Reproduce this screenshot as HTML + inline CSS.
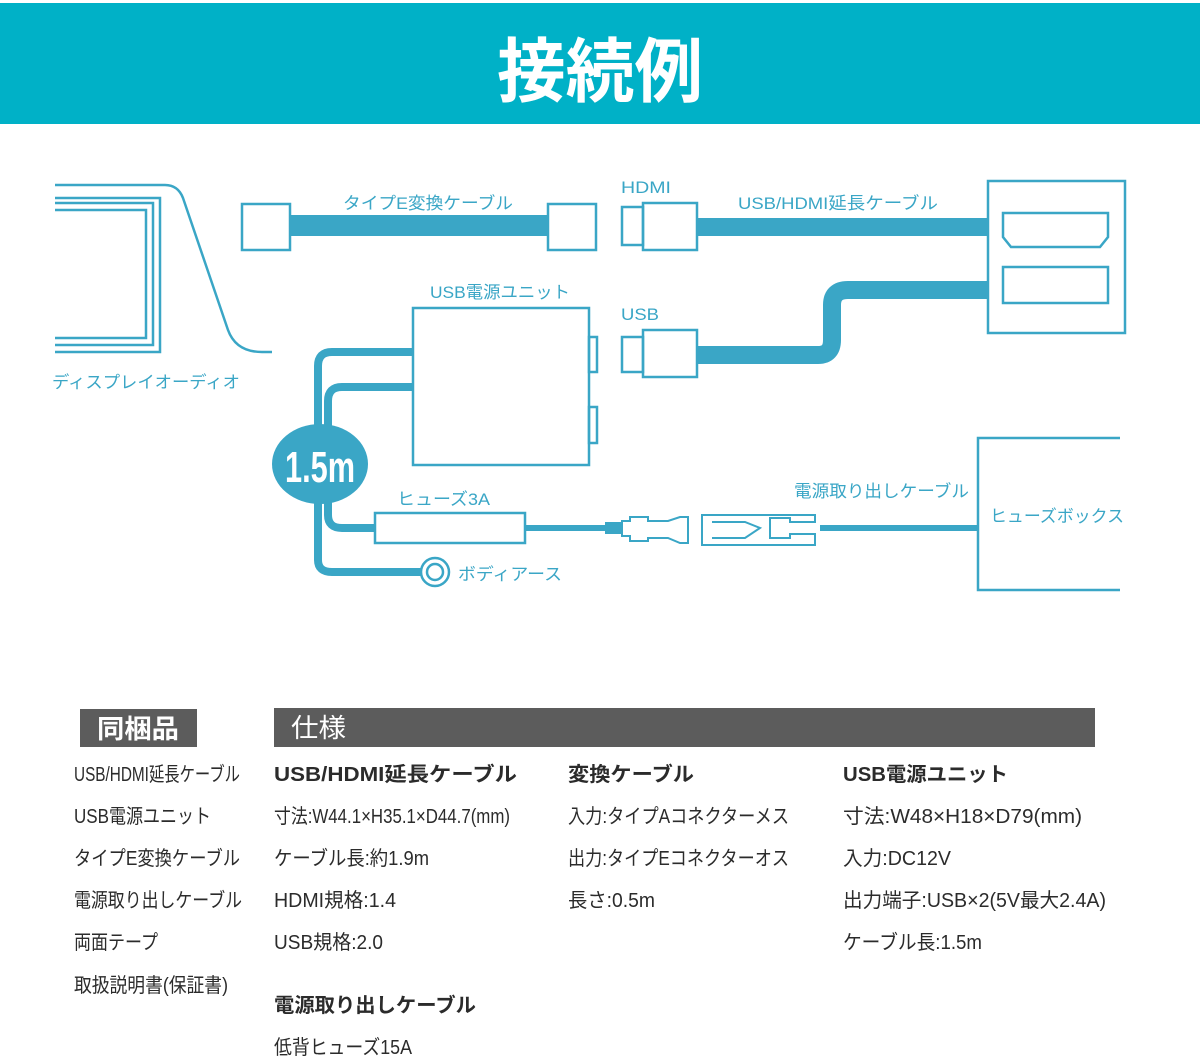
<!DOCTYPE html>
<html><head><meta charset="utf-8"><style>
html,body{margin:0;padding:0;background:#fff;}
svg{display:block;}
text{font-family:"Liberation Sans","Noto Sans CJK JP",sans-serif;}
</style></head><body>
<svg width="1200" height="1059" viewBox="0 0 1200 1059" xmlns="http://www.w3.org/2000/svg">
<rect x="0" y="3" width="1200" height="121" fill="#00b1c7"/>
<text x="600" y="96" text-anchor="middle" font-size="70" font-weight="bold" fill="#fff" textLength="206" lengthAdjust="spacingAndGlyphs">接続例</text>

<g fill="none" stroke="#3aa6c6" stroke-width="2.5">
 <!-- display -->
 <path d="M55 185 H165 Q178 185 183 198 L228 330 Q236 352 262 352 H272"/>
 <path d="M55 198 H160 V352 H55"/>
 <path d="M55 203 H153 V345 H55"/>
 <path d="M55 210 H146 V338 H55"/>
 <!-- type E -->
 <rect x="242" y="204" width="48" height="46"/>
 <rect x="548" y="204" width="48" height="46"/>
 <!-- HDMI plug -->
 <rect x="622" y="207" width="21" height="38"/>
 <rect x="643" y="203" width="54" height="47"/>
 <!-- USB plug -->
 <rect x="622" y="337" width="21" height="35"/>
 <rect x="643" y="330" width="54" height="47"/>
 <!-- car -->
 <rect x="988" y="181" width="137" height="152"/>
 <path d="M1003 213 H1108 V237 L1100 247 H1011 L1003 237 Z"/>
 <rect x="1003" y="267" width="105" height="36"/>
 <!-- unit -->
 <rect x="413" y="308" width="176" height="157"/>
 <rect x="589" y="337" width="8" height="35"/>
 <rect x="589" y="407" width="8" height="36"/>
 <!-- fuse -->
 <rect x="375" y="513" width="150" height="30"/>
 <!-- ground -->
 <circle cx="435" cy="572" r="14"/>
 <circle cx="435" cy="572" r="8"/>
 <!-- fuse box -->
 <path d="M1120 438 H978 V590 H1120"/>
 <!-- connectors -->
 <path d="M622 521 H630 V517 H648 V521 H668 L680 517 H688 V543 H680 L668 538 H648 V541 H630 V536 H622 Z" stroke-width="2"/>
 <path d="M702 515 H815 V522 H790 V518 H770 V538 H790 V534 H815 V545 H702 Z" stroke-width="2"/>
 <path d="M712 522 H745 L760 528 L745 538 H712" stroke-width="2"/>
</g>
<g fill="#3aa6c6">
 <rect x="290" y="215" width="258" height="21"/>
 <rect x="697" y="218" width="291" height="18"/>
 <rect x="525" y="525" width="80" height="6"/>
 <rect x="820" y="525" width="158" height="6"/>
 <rect x="605" y="522" width="17" height="12"/>
</g>
<g fill="none" stroke="#3aa6c6">
 <path d="M697 355 H818 Q832 355 832 340 V305 Q832 290 848 290 H988" stroke-width="18"/>
 <path d="M413 352 H332 Q318 352 318 366 V560 Q318 572 332 572 H421" stroke-width="8"/>
 <path d="M413 387 H342 Q328 387 328 401 V515 Q328 528 342 528 H375" stroke-width="8"/>
</g>
<ellipse cx="320" cy="464" rx="48" ry="40" fill="#3aa6c6"/>
<text x="320" y="482" text-anchor="middle" font-size="44" font-weight="bold" fill="#fff" textLength="70" lengthAdjust="spacingAndGlyphs">1.5m</text>

<g fill="#3aa6c6" font-size="17">
 <text x="52" y="388" textLength="188" lengthAdjust="spacingAndGlyphs">ディスプレイオーディオ</text>
 <text x="343" y="209" textLength="170" lengthAdjust="spacingAndGlyphs">タイプE変換ケーブル</text>
 <text x="621" y="193" textLength="50" lengthAdjust="spacingAndGlyphs">HDMI</text>
 <text x="738" y="209" textLength="200" lengthAdjust="spacingAndGlyphs">USB/HDMI延長ケーブル</text>
 <text x="430" y="298" textLength="140" lengthAdjust="spacingAndGlyphs">USB電源ユニット</text>
 <text x="621" y="320" textLength="38" lengthAdjust="spacingAndGlyphs">USB</text>
 <text x="397" y="505" textLength="93" lengthAdjust="spacingAndGlyphs">ヒューズ3A</text>
 <text x="458" y="580" textLength="104" lengthAdjust="spacingAndGlyphs">ボディアース</text>
 <text x="794" y="497" textLength="175" lengthAdjust="spacingAndGlyphs">電源取り出しケーブル</text>
 <text x="990" y="522" textLength="134" lengthAdjust="spacingAndGlyphs">ヒューズボックス</text>
</g>

<rect x="80" y="709" width="117" height="38" fill="#5c5c5c"/>
<text x="97" y="738" font-size="26" font-weight="bold" fill="#fff" textLength="82" lengthAdjust="spacingAndGlyphs">同梱品</text>
<rect x="274" y="708" width="821" height="39" fill="#5c5c5c"/>
<text x="291" y="737" font-size="26" fill="#fff" textLength="55" lengthAdjust="spacingAndGlyphs">仕様</text>

<g fill="#2b2b2b" font-size="20" lengthAdjust="spacingAndGlyphs">
 <text x="74" y="781" textLength="166" lengthAdjust="spacingAndGlyphs">USB/HDMI延長ケーブル</text>
 <text x="74" y="823" textLength="137" lengthAdjust="spacingAndGlyphs">USB電源ユニット</text>
 <text x="74" y="865" textLength="166" lengthAdjust="spacingAndGlyphs">タイプE変換ケーブル</text>
 <text x="74" y="907" textLength="168" lengthAdjust="spacingAndGlyphs">電源取り出しケーブル</text>
 <text x="74" y="949" textLength="84" lengthAdjust="spacingAndGlyphs">両面テープ</text>
 <text x="74" y="992" textLength="154" lengthAdjust="spacingAndGlyphs">取扱説明書(保証書)</text>

 <text x="274" y="781" font-weight="bold" textLength="243" lengthAdjust="spacingAndGlyphs">USB/HDMI延長ケーブル</text>
 <text x="274" y="823" textLength="236" lengthAdjust="spacingAndGlyphs">寸法:W44.1×H35.1×D44.7(mm)</text>
 <text x="274" y="865" textLength="155" lengthAdjust="spacingAndGlyphs">ケーブル長:約1.9m</text>
 <text x="274" y="907" textLength="122" lengthAdjust="spacingAndGlyphs">HDMI規格:1.4</text>
 <text x="274" y="949" textLength="109" lengthAdjust="spacingAndGlyphs">USB規格:2.0</text>
 <text x="274" y="1012" font-weight="bold" textLength="202" lengthAdjust="spacingAndGlyphs">電源取り出しケーブル</text>
 <text x="274" y="1054" textLength="138" lengthAdjust="spacingAndGlyphs">低背ヒューズ15A</text>

 <text x="568" y="781" font-weight="bold" textLength="126" lengthAdjust="spacingAndGlyphs">変換ケーブル</text>
 <text x="568" y="823" textLength="221" lengthAdjust="spacingAndGlyphs">入力:タイプAコネクターメス</text>
 <text x="568" y="865" textLength="221" lengthAdjust="spacingAndGlyphs">出力:タイプEコネクターオス</text>
 <text x="568" y="907" textLength="87" lengthAdjust="spacingAndGlyphs">長さ:0.5m</text>

 <text x="843" y="781" font-weight="bold" textLength="165" lengthAdjust="spacingAndGlyphs">USB電源ユニット</text>
 <text x="843" y="823" textLength="239" lengthAdjust="spacingAndGlyphs">寸法:W48×H18×D79(mm)</text>
 <text x="843" y="865" textLength="108" lengthAdjust="spacingAndGlyphs">入力:DC12V</text>
 <text x="843" y="907" textLength="263" lengthAdjust="spacingAndGlyphs">出力端子:USB×2(5V最大2.4A)</text>
 <text x="843" y="949" textLength="139" lengthAdjust="spacingAndGlyphs">ケーブル長:1.5m</text>
</g>
</svg>
</body></html>
